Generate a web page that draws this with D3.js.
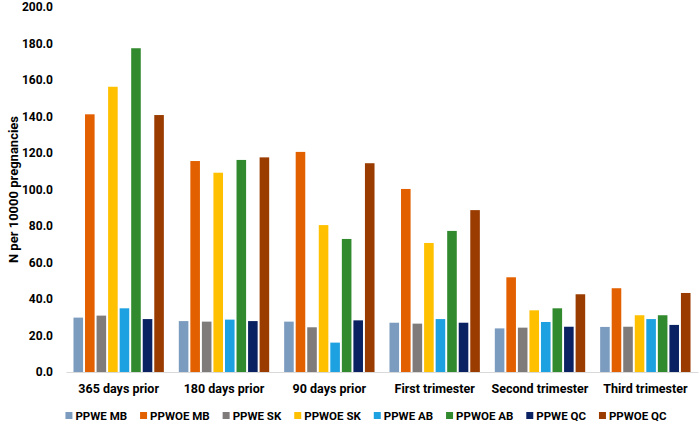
<!DOCTYPE html>
<html>
<head>
<meta charset="utf-8">
<script src="https://cdn.jsdelivr.net/npm/d3@7"></script>
<style>
  html, body { margin: 0; padding: 0; background: #fff; }
  svg { display: block; }
  text { font-family: Roboto, "Open Sans", sans-serif; font-weight: bold; fill: #000; }
</style>
</head>
<body>
<svg id="chart" width="699" height="425"></svg>
<script>
const categories = ["365 days prior", "180 days prior", "90 days prior", "First trimester", "Second trimester", "Third trimester"];
const seriesNames = ["PPWE MB", "PPWOE MB", "PPWE SK", "PPWOE SK", "PPWE AB", "PPWOE AB", "PPWE QC", "PPWOE QC"];
const seriesColors = ["#7C9CBF", "#E36000", "#7F7B7B", "#FFC000", "#1EA1E0", "#318A2E", "#0B2262", "#9A3C00"];
const PPWE_MB  = [29.8, 27.9, 27.6, 27.0, 23.9, 24.7];
const PPWOE_MB = [141.2, 115.6, 120.6, 100.3, 51.9, 45.9];
const PPWE_SK  = [30.9, 27.6, 24.5, 26.5, 24.3, 24.8];
const PPWOE_SK = [156.3, 109.2, 80.5, 70.7, 33.8, 31.1];
const PPWE_AB  = [34.9, 28.7, 16.1, 29.0, 27.4, 29.0];
const PPWOE_AB = [177.4, 116.2, 72.9, 77.3, 34.9, 31.1];
const PPWE_QC  = [29.0, 27.9, 28.3, 27.0, 24.8, 25.8];
const PPWOE_QC = [140.8, 117.6, 114.4, 88.7, 42.6, 43.3];
const yTicks = [0, 20, 40, 60, 80, 100, 120, 140, 160, 180, 200];
const yTitle = "N per 10000 pregnancies";

const seriesValues = [PPWE_MB, PPWOE_MB, PPWE_SK, PPWOE_SK, PPWE_AB, PPWOE_AB, PPWE_QC, PPWOE_QC];

const svg = d3.select("#chart");
const margin = { left: 66, right: 1, top: 7, bottom: 53 };
const W = 699, H = 425;

const x0 = d3.scaleBand().domain(categories).range([margin.left, W - margin.right])
  .paddingInner(0.142).paddingOuter(0.071);
const x1 = d3.scaleBand().domain(seriesNames).range([0, x0.bandwidth()]).paddingInner(0.17).paddingOuter(0);
const y = d3.scaleLinear().domain([0, 200]).range([H - margin.bottom, margin.top]);
const color = d3.scaleOrdinal().domain(seriesNames).range(seriesColors);

// y axis
const yAxis = svg.append("g").attr("transform", `translate(${margin.left},0)`)
  .call(d3.axisLeft(y).tickValues(yTicks).tickFormat(d3.format(".1f")).tickSize(0).tickPadding(13));
yAxis.select(".domain").remove();
yAxis.selectAll("text").style("font-size", "12px").style("font-family", "Roboto, sans-serif").style("font-weight", "bold").attr("fill", "#000");

// bars
const groups = svg.append("g").selectAll("g").data(categories).join("g")
  .attr("transform", c => `translate(${x0(c)},0)`);
groups.selectAll("rect")
  .data((c, ci) => seriesNames.map((s, si) => ({ s, v: seriesValues[si][ci] })))
  .join("rect")
  .attr("x", d => x1(d.s))
  .attr("width", x1.bandwidth())
  .attr("y", d => y(d.v))
  .attr("height", d => y(0) - y(d.v))
  .attr("fill", d => color(d.s));

// x axis
const xAxis = svg.append("g").attr("transform", `translate(0,${y(0)})`)
  .call(d3.axisBottom(x0).tickSize(0).tickPadding(12).tickSizeOuter(0));
xAxis.select(".domain").attr("stroke", "#d9d9d9").attr("stroke-width", 1);
xAxis.selectAll("text").style("font-size", "12.5px").style("font-family", "Roboto, sans-serif").style("font-weight", "bold").attr("fill", "#000");

// y title
svg.append("text")
  .attr("transform", `translate(15,${(y(0) + y(200)) / 2}) rotate(-90)`)
  .attr("text-anchor", "middle")
  .attr("dominant-baseline", "middle")
  .style("font-size", "13px")
  .text(yTitle);

// legend
const legend = svg.append("g");
const items = legend.selectAll("g").data(seriesNames).join("g");
items.append("rect").attr("width", 7).attr("height", 7).attr("y", -4).attr("fill", d => color(d));
items.append("text").attr("x", 10).attr("dy", "0.35em").style("font-size", "11.5px").text(d => d);
let cx = 0;
items.each(function() {
  const w = 10 + d3.select(this).select("text").node().getComputedTextLength();
  d3.select(this).attr("transform", `translate(${cx},0)`);
  cx += w + 13;
});
const totalW = cx - 13;
legend.attr("transform", `translate(${(67 + 665) / 2 - totalW / 2},416)`);
</script>
</body>
</html>
